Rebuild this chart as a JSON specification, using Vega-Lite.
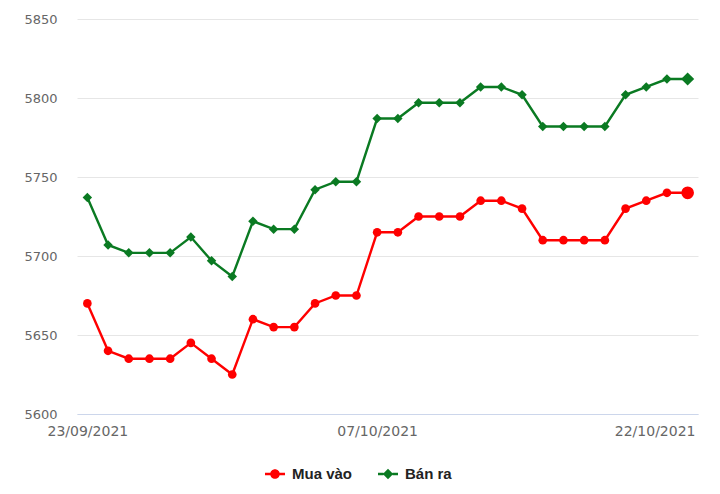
{
  "$schema": "https://vega.github.io/schema/vega-lite/v6.json",
  "autosize": {"type": "none"},
  "width": 621,
  "height": 395,
  "padding": {"left": 77, "top": 19, "right": 22, "bottom": 80},
  "background": "white",
  "config": {"view": {"stroke": null}},
  "data": {"values": [
    {"date": "23/09/2021", "Mua vào": 5670, "Bán ra": 5737},
    {"date": "24/09/2021", "Mua vào": 5640, "Bán ra": 5707},
    {"date": "25/09/2021", "Mua vào": 5635, "Bán ra": 5702},
    {"date": "26/09/2021", "Mua vào": 5635, "Bán ra": 5702},
    {"date": "27/09/2021", "Mua vào": 5635, "Bán ra": 5702},
    {"date": "28/09/2021", "Mua vào": 5645, "Bán ra": 5712},
    {"date": "29/09/2021", "Mua vào": 5635, "Bán ra": 5697},
    {"date": "30/09/2021", "Mua vào": 5625, "Bán ra": 5687},
    {"date": "01/10/2021", "Mua vào": 5660, "Bán ra": 5722},
    {"date": "02/10/2021", "Mua vào": 5655, "Bán ra": 5717},
    {"date": "03/10/2021", "Mua vào": 5655, "Bán ra": 5717},
    {"date": "04/10/2021", "Mua vào": 5670, "Bán ra": 5742},
    {"date": "05/10/2021", "Mua vào": 5675, "Bán ra": 5747},
    {"date": "06/10/2021", "Mua vào": 5675, "Bán ra": 5747},
    {"date": "07/10/2021", "Mua vào": 5715, "Bán ra": 5787},
    {"date": "08/10/2021", "Mua vào": 5715, "Bán ra": 5787},
    {"date": "09/10/2021", "Mua vào": 5725, "Bán ra": 5797},
    {"date": "10/10/2021", "Mua vào": 5725, "Bán ra": 5797},
    {"date": "11/10/2021", "Mua vào": 5725, "Bán ra": 5797},
    {"date": "12/10/2021", "Mua vào": 5735, "Bán ra": 5807},
    {"date": "13/10/2021", "Mua vào": 5735, "Bán ra": 5807},
    {"date": "14/10/2021", "Mua vào": 5730, "Bán ra": 5802},
    {"date": "15/10/2021", "Mua vào": 5710, "Bán ra": 5782},
    {"date": "16/10/2021", "Mua vào": 5710, "Bán ra": 5782},
    {"date": "17/10/2021", "Mua vào": 5710, "Bán ra": 5782},
    {"date": "18/10/2021", "Mua vào": 5710, "Bán ra": 5782},
    {"date": "19/10/2021", "Mua vào": 5730, "Bán ra": 5802},
    {"date": "20/10/2021", "Mua vào": 5735, "Bán ra": 5807},
    {"date": "21/10/2021", "Mua vào": 5740, "Bán ra": 5812},
    {"date": "22/10/2021", "Mua vào": 5740, "Bán ra": 5812}
  ]},
  "transform": [{"fold": ["Mua vào", "Bán ra"], "as": ["series", "value"]}],
  "encoding": {
    "x": {
      "field": "date", "type": "ordinal", "sort": null,
      "scale": {"type": "point", "padding": 0.5},
      "axis": {
        "title": null, "labelAngle": 0, "ticks": false,
        "values": ["23/09/2021", "07/10/2021", "22/10/2021"],
        "labelOffset": {"condition": {"test": "datum.value == '22/10/2021'", "value": -33}, "value": 0},
        "labelFont": "DejaVu Sans", "labelFontSize": 14, "labelColor": "#666666",
        "labelPadding": 10, "domainColor": "#ccd6eb", "domainWidth": 1,
        "grid": false
      }
    },
    "y": {
      "field": "value", "type": "quantitative",
      "scale": {"domain": [5600, 5850], "nice": false, "zero": false},
      "axis": {
        "title": null, "values": [5600, 5650, 5700, 5750, 5800, 5850], "format": "d",
        "domain": false, "ticks": false, "gridColor": "#e6e6e6", "gridWidth": 1,
        "labelFont": "DejaVu Sans", "labelFontSize": 13, "labelColor": "#666666",
        "labelPadding": 20
      }
    },
    "color": {
      "field": "series", "type": "nominal",
      "scale": {"domain": ["Mua vào", "Bán ra"], "range": ["#ff0000", "#0a7a22"]},
      "legend": {"title": null, "orient": "none", "direction": "horizontal", "legendX": 188, "legendY": 445,
        "symbolOpacity": 1, "symbolSize": 400, "symbolStrokeWidth": 0, "labelFont": "Liberation Sans", "labelFontSize": 15,
        "labelFontWeight": "bold", "labelColor": "#222222", "columnPadding": 25, "labelOffset": 7}
    }
  },
  "layer": [
    {
      "mark": {"type": "line", "strokeWidth": 2.4}
    },
    {
      "transform": [{"filter": "datum.series == 'Mua vào'"}],
      "mark": {"type": "point", "filled": true, "opacity": 1, "shape": "circle"},
      "encoding": {
        "size": {"condition": {"test": "datum.date == '22/10/2021'", "value": 160}, "value": 75}
      }
    },
    {
      "transform": [{"filter": "datum.series == 'Bán ra'"}],
      "mark": {"type": "point", "filled": true, "opacity": 1, "shape": "diamond"},
      "encoding": {
        "size": {"condition": {"test": "datum.date == '22/10/2021'", "value": 170}, "value": 90}
      }
    },
    {
      "mark": {"type": "point", "filled": true, "opacity": 0},
      "encoding": {
        "shape": {"field": "series", "type": "nominal",
          "scale": {"domain": ["Mua vào", "Bán ra"], "range": [
            "M-1,-0.12H-0.45V0.12H-1Z M0.45,-0.12H1V0.12H0.45Z M0.48,0A0.48,0.48,0,1,1,-0.48,0A0.48,0.48,0,1,1,0.48,0Z",
            "M-1,-0.12H-0.45V0.12H-1Z M0.45,-0.12H1V0.12H0.45Z M0,-0.52L0.52,0L0,0.52L-0.52,0Z"
          ]},
          "legend": {"title": null, "orient": "none", "direction": "horizontal", "legendX": 188, "legendY": 445,
            "symbolOpacity": 1, "symbolSize": 400, "symbolStrokeWidth": 0, "labelFont": "Liberation Sans", "labelFontSize": 15,
            "labelFontWeight": "bold", "labelColor": "#222222", "columnPadding": 25, "labelOffset": 7}}
      }
    }
  ]
}
